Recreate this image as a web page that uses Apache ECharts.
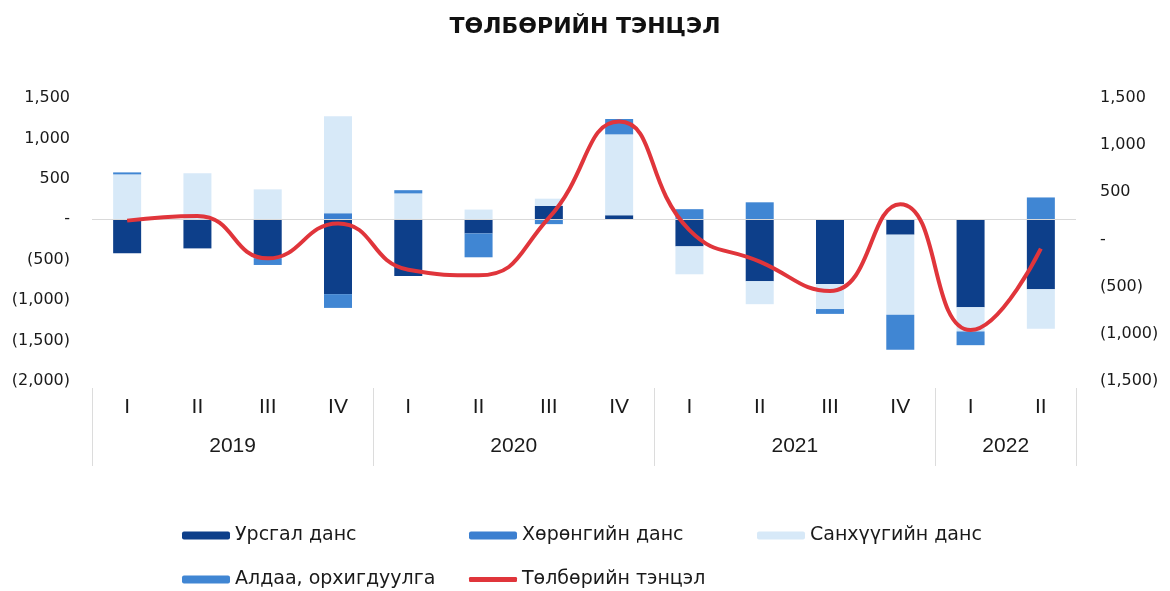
<!DOCTYPE html>
<html>
<head>
<meta charset="utf-8">
<script src="https://cdn.jsdelivr.net/npm/echarts@6/dist/echarts.min.js"></script>
<style>
  html, body { margin: 0; padding: 0; background: #fff; }
  #chart { width: 1170px; height: 591px; }
</style>
</head>
<body>
<div id="chart"></div>
<script>
// улирлууд болон жилүүд
const quarters = ['I', 'II', 'III', 'IV', 'I', 'II', 'III', 'IV', 'I', 'II', 'III', 'IV', 'I', 'II'];
const years = ['2019', '2020', '2021', '2022'];
const quartersPerYear = [4, 4, 4, 2];

// сая ам.доллар
const ursgal = [-420, -360, -480, -926, -700, -175, 165, 50, -335, -765, -800, -190, -1087, -865];
const khorongo = [0, 0, 0, 75, 0, 0, 0, 0, 0, 0, 0, 0, 0, 0];
const sankhuu = [555, 570, 370, 1200, 320, 120, 90, 1000, -345, -285, -310, -990, -300, -490];
const aldaa = [25, 0, -85, -170, 40, -295, -60, 190, 125, 210, -60, -435, -170, 270];
const tentsel = [200, 250, -200, 170, -320, -380, 230, 1250, 100, -235, -546, 375, -960, -96];

const leftTicks = { min: -2000, max: 1500, step: 500 };
const rightTicks = { min: -1500, max: 1500, step: 500 };

// жилийн хил, төв (улирлын индексээр)
const yearEdges = [-0.5];
const yearCenters = [];
quartersPerYear.forEach((n) => {
  const start = yearEdges[yearEdges.length - 1];
  yearCenters.push(start + n / 2);
  yearEdges.push(start + n);
});

const fmt = (v) => {
  if (v === 0) return '-';
  const s = Math.abs(v).toLocaleString('en-US');
  return v < 0 ? '(' + s + ')' : s;
};

const FONT = 'Liberation Sans';
const WIDE = 'DejaVu Sans';
const TXT = '#1a1a1a';

const legendBase = {
  itemWidth: 48,
  itemHeight: 8,
  itemGap: 0,
  textStyle: { fontFamily: WIDE, fontSize: 19, color: TXT },
  selectedMode: false
};

const chart = echarts.init(document.getElementById('chart'));
chart.setOption({
  animation: false,
  title: {
    text: 'ТӨЛБӨРИЙН ТЭНЦЭЛ',
    left: 'center',
    top: 11,
    textStyle: { fontFamily: WIDE, fontSize: 22, fontWeight: 'bold', color: '#111' }
  },
  legend: [
    Object.assign({}, legendBase, { left: 177, top: 521, data: ['Урсгал данс'] }),
    Object.assign({}, legendBase, { left: 464, top: 521, data: ['Хөрөнгийн данс'] }),
    Object.assign({}, legendBase, { left: 752, top: 521, data: ['Санхүүгийн данс'] }),
    Object.assign({}, legendBase, { left: 177, top: 565, data: ['Алдаа, орхигдуулга'] }),
    Object.assign({}, legendBase, { left: 464, top: 565, itemHeight: 5, data: [{ name: 'Төлбөрийн тэнцэл', icon: 'roundRect' }] })
  ],
  grid: { left: 92, right: 94, top: 98, bottom: 210 },
  xAxis: [
    {
      type: 'category',
      data: quarters,
      position: 'bottom',
      axisLine: { show: false, onZero: false },
      axisTick: { show: false },
      axisLabel: { margin: 16, fontFamily: FONT, fontSize: 21, color: TXT }
    },
    {
      type: 'value',
      min: -0.5,
      max: quarters.length - 0.5,
      position: 'bottom',
      offset: 7,
      axisLine: { show: false, onZero: false },
      splitLine: { show: false },
      axisTick: { show: true, customValues: yearEdges, length: 78, lineStyle: { color: '#dcdcdc', width: 1 } },
      axisLabel: {
        customValues: yearCenters,
        margin: 48,
        fontFamily: FONT,
        fontSize: 21,
        color: TXT,
        formatter: (v) => years[yearCenters.indexOf(v)] || ''
      }
    }
  ],
  yAxis: [
    {
      type: 'value',
      min: leftTicks.min,
      max: leftTicks.max,
      interval: leftTicks.step,
      axisLine: { show: false },
      axisTick: { show: false },
      splitLine: { show: false },
      axisLabel: { margin: 22, fontFamily: WIDE, fontSize: 16, color: TXT, formatter: fmt }
    },
    {
      type: 'value',
      min: rightTicks.min,
      max: rightTicks.max,
      interval: rightTicks.step,
      axisLine: { show: false },
      axisTick: { show: false },
      splitLine: { show: false },
      axisLabel: { margin: 24, fontFamily: WIDE, fontSize: 16, color: TXT, formatter: fmt }
    }
  ],
  series: [
    {
      name: 'Урсгал данс', type: 'bar', stack: 'bop', barWidth: 28, data: ursgal,
      itemStyle: { color: '#0d3f8a' },
      markLine: {
        silent: true, symbol: 'none', label: { show: false },
        lineStyle: { color: '#d9d9d9', type: 'solid', width: 1 },
        data: [{ yAxis: 0 }]
      }
    },
    { name: 'Хөрөнгийн данс', type: 'bar', stack: 'bop', barWidth: 28, data: khorongo, itemStyle: { color: '#3b7fd0' } },
    { name: 'Санхүүгийн данс', type: 'bar', stack: 'bop', barWidth: 28, data: sankhuu, itemStyle: { color: '#d7e9f8' } },
    { name: 'Алдаа, орхигдуулга', type: 'bar', stack: 'bop', barWidth: 28, data: aldaa, itemStyle: { color: '#4086d3' } },
    {
      name: 'Төлбөрийн тэнцэл', type: 'line', yAxisIndex: 1, data: tentsel,
      smooth: 0.5, symbol: 'none', z: 5,
      lineStyle: { color: '#e0353b', width: 4 },
      itemStyle: { color: '#e0353b' }
    }
  ]
});
</script>
</body>
</html>
